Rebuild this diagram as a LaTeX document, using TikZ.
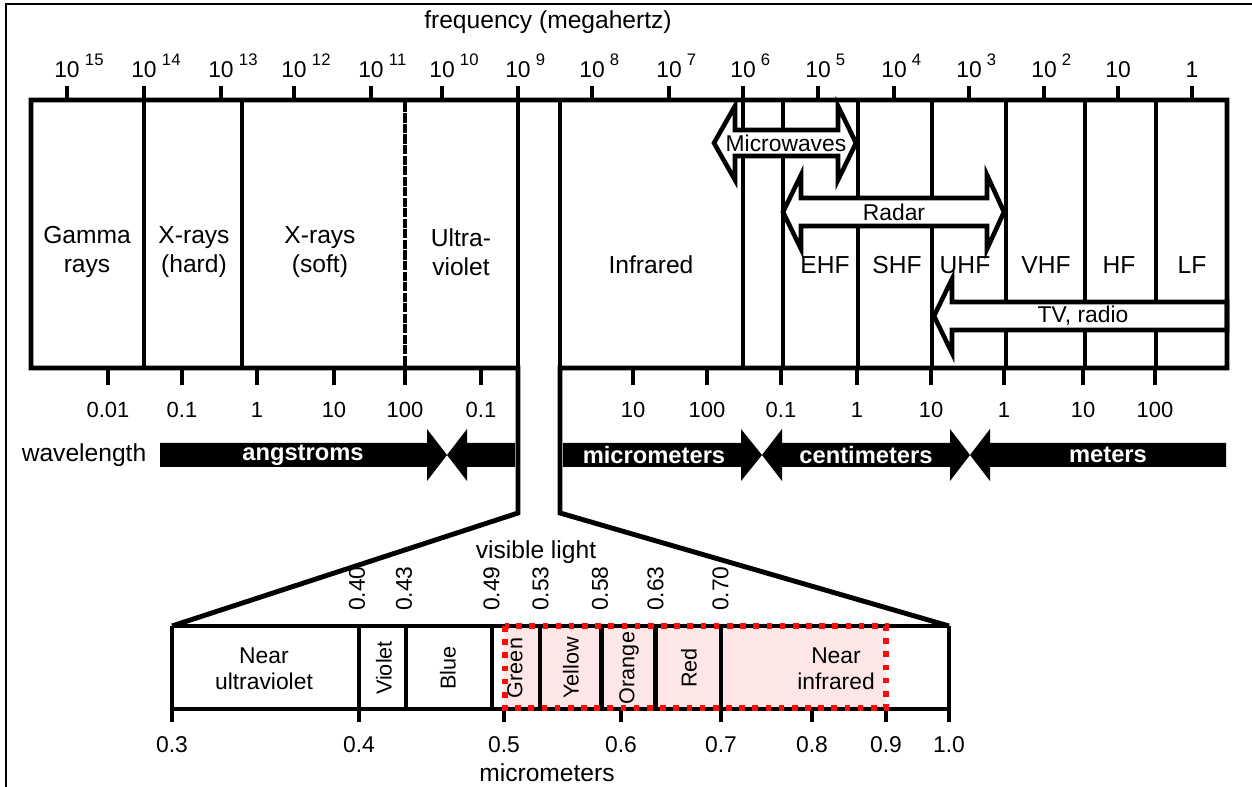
\documentclass[tikz,border=0pt]{standalone}
\usepackage{fontspec}
\setmainfont{Liberation Sans}
\usepackage{tikz}

\definecolor{pinkfill}{RGB}{253,230,230}
\definecolor{dotred}{RGB}{250,12,12}

\tikzset{
  heavy/.style={line width=2.8pt, line join=miter},
  tickmark/.style={line width=2.8pt},
  region/.style={font=\fontsize{14}{16.5}\selectfont, align=center},
  freqlbl/.style={font=\fontsize{13}{14}\selectfont, anchor=base},
  numlbl/.style={font=\fontsize{12.5}{14}\selectfont},
  bandname/.style={font=\bfseries\fontsize{13.5}{15}\selectfont, text=white},
  hollow/.style={draw=black, line width=2.6pt, fill=white, line join=miter},
  colourlbl/.style={font=\fontsize{12.3}{13}\selectfont, rotate=90},
  edgelbl/.style={font=\fontsize{13}{14}\selectfont, rotate=90, anchor=west},
}
\newcommand{\tenpow}[1]{10\rlap{\hspace{3pt}\raisebox{7pt}{\fontsize{9.5}{10}\selectfont #1}}}

\begin{document}
\begin{tikzpicture}[x=0.02cm,y=-0.02cm]
  \useasboundingbox (0,0) rectangle (1252,787);
  \draw[line width=0.6pt] (6,787) -- (6,4) -- (1252,4);

  % frequency scale
  \node[region] (freq) at (548,22) {frequency (megahertz)};
  \foreach \x/\t [count=\i] in {67/\tenpow{15},144/\tenpow{14},221/\tenpow{13},294/\tenpow{12},
      371/\tenpow{11},442/\tenpow{10},518/\tenpow{9},592/\tenpow{8},669/\tenpow{7},743/\tenpow{6},
      818/\tenpow{5},894/\tenpow{4},969/\tenpow{3},1044/\tenpow{2},1118/10,1192/1} {
    \draw[tickmark] (\x,86) -- (\x,100);
    \node[freqlbl] (f\i) at (\x,78) {\t};
  }

  % band dividers
  \foreach \x in {144,242,743,783,858,932,1006,1085,1156}
    \draw[heavy] (\x,100) -- (\x,368);
  \draw[heavy] (405,100) -- (405,368);
  \draw[white, line width=2.8pt, dash pattern=on 0.8pt off 5.2pt] (405,112) -- (405,360);

  % hollow arrows
  \draw[hollow] (714,143) -- (735,106) -- (735,130) -- (838,130) -- (838,106) -- (856,143)
    -- (838,180) -- (838,156) -- (735,156) -- (735,180) -- cycle;
  \draw[hollow] (783,212) -- (801,175) -- (801,198) -- (987,198) -- (987,175) -- (1004,212)
    -- (987,249) -- (987,226) -- (801,226) -- (801,249) -- cycle;
  \draw[hollow] (934,316) -- (952,279) -- (952,302) -- (1227,302) -- (1227,330) -- (952,330)
    -- (952,353) -- cycle;
  \node[font=\fontsize{13}{14}\selectfont] (mw) at (786,143) {Microwaves};
  \node[font=\fontsize{13}{14}\selectfont] (radar) at (894,212) {Radar};
  \node[font=\fontsize{13}{14}\selectfont] (tv) at (1083,316) {TV, radio};

  % outline of the chart, open below the gap
  \draw[heavy] (172,626) -- (518,513) -- (518,368) -- (31,368) -- (31,100) -- (1227,100)
    -- (1227,368) -- (560,368) -- (560,513) -- (949,626);
  \draw[heavy] (518,100) -- (518,368) (560,100) -- (560,368);

  % region names
  \node[region] (gamma) at (87,252) {Gamma\\rays};
  \node[region] (xhard) at (194,252) {X-rays\\(hard)};
  \node[region] (xsoft) at (320,252) {X-rays\\(soft)};
  \node[region] (uv) at (461,252) {Ultra-\\violet};
  \node[region] (ir) at (651,265) {Infrared};
  \node[region] (ehf) at (825,265) {EHF};
  \node[region] (shf) at (897,265) {SHF};
  \node[region] (uhf) at (965,265) {UHF};
  \node[region] (vhf) at (1046,265) {VHF};
  \node[region] (hf) at (1119,265) {HF};
  \node[region] (lf) at (1192,265) {LF};

  % wavelength scale
  \foreach \x/\t [count=\i] in {108/0.01,182/0.1,257/1,334/10,405/100,481/0.1,
      633/10,707/100,781/0.1,857/1,931/10,1004/1,1083/10,1155/100} {
    \draw[tickmark] (\x,368) -- (\x,385);
    \node[numlbl] (w\i) at (\x,410) {\t};
  }
  \node[region] (wl) at (84,455) {wavelength};
  \fill (160,443) -- (427,443) -- (427,429) -- (447,455) -- (427,481) -- (427,467) -- (160,467) -- cycle;
  \fill (515,443) -- (467,443) -- (467,429) -- (447,455) -- (467,481) -- (467,467) -- (515,467) -- cycle;
  \fill (563,443) -- (741,443) -- (741,429) -- (762,455) -- (741,481) -- (741,467) -- (563,467) -- cycle;
  \fill (950,443) -- (782,443) -- (782,429) -- (762,455) -- (782,481) -- (782,467) -- (950,467)
    -- (950,481) -- (970,455) -- (950,429) -- cycle;
  \fill (1226,443) -- (990,443) -- (990,429) -- (970,455) -- (990,481) -- (990,467) -- (1226,467) -- cycle;
  \node[bandname] (ang) at (303,455) {angstroms};
  \node[bandname] (um) at (654,455) {micrometers};
  \node[bandname] (cm) at (866,455) {centimeters};
  \node[bandname] (m) at (1108,455) {meters};

  % visible light
  \fill[pinkfill] (504,626) rectangle (886,709);
  \draw[line width=2.8pt] (172,626) -- (949,626) (172,709) -- (949,709);
  \draw[heavy] (172,626) -- (172,722) (949,626) -- (949,722);
  \foreach \x in {359,406,492,540,601.5,655.5,721}
    \draw[heavy] (\x,626) -- (\x,709);
  \foreach \x in {359,504,621,721,812,886}
    \draw[tickmark] (\x,709) -- (\x,722);
  \foreach \x/\t [count=\i] in {172/0.3,359/0.4,504/0.5,621/0.6,721/0.7,812/0.8,886/0.9,949/1.0}
    \node[font=\fontsize{13}{14}\selectfont] (v\i) at (\x,745) {\t};
  \foreach \x/\t [count=\i] in {357/0.40,404/0.43,491.5/0.49,540.5/0.53,600/0.58,655.5/0.63,720.5/0.70}
    \node[edgelbl] (e\i) at (\x,617) {\t};
  \node[region] (vis) at (536,552) {visible light};
  \node[region] (mic) at (547,773) {micrometers};
  \node[font=\fontsize{13}{15}\selectfont, align=center] (nuv) at (264,669) {Near\\ultraviolet};
  \node[colourlbl] (violet) at (384,668) {Violet};
  \node[colourlbl] (blue) at (448,668) {Blue};
  \node[colourlbl] (green) at (515,668) {Green};
  \node[colourlbl] (yellow) at (571,668) {Yellow};
  \node[colourlbl] (orange) at (629,668) {Orange};
  \node[colourlbl] (red) at (689,668) {Red};
  \node[font=\fontsize{13}{15}\selectfont, align=center] (nir) at (836,669) {Near\\infrared};
  \draw[dotred, line width=3.2pt, dash pattern=on 3.2pt off 4.3pt] (505,626) rectangle (886,708);
\end{tikzpicture}
\end{document}
